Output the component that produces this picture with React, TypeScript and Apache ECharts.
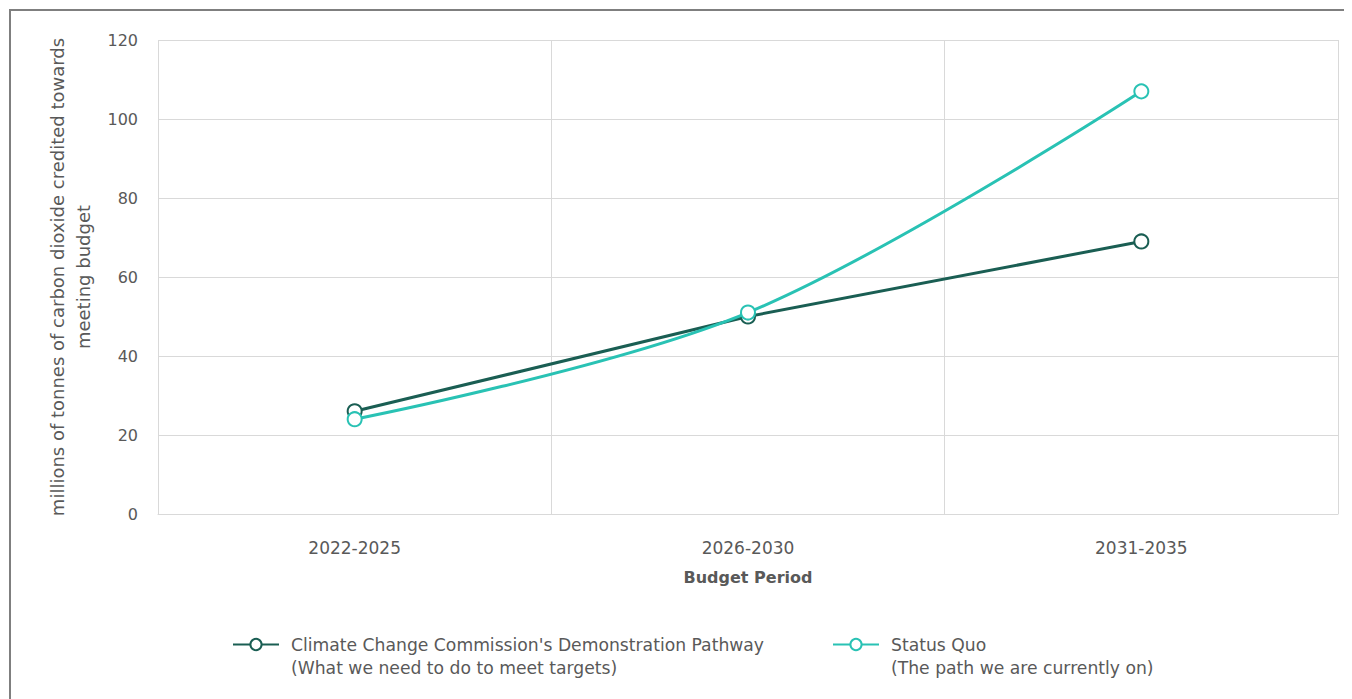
import React, { useEffect, useRef } from "react";
import * as echarts from "echarts";

const categories = ["2022-2025", "2026-2030", "2031-2035"];
const pathwayValues = [26, 50, 69];
const statusQuoValues = [24, 51, 107];
const yTicks = { min: 0, max: 120, interval: 20 };

const pathwayName = "Climate Change Commission's Demonstration Pathway";
const pathwaySub = "(What we need to do to meet targets)";
const statusName = "Status Quo";
const statusSub = "(The path we are currently on)";
const yAxisName = "millions of tonnes of carbon dioxide credited towards\nmeeting budget";
const xAxisName = "Budget Period";

const FONT = "DejaVu Sans";
const TEXT = "#595959";
const GRID = "#d9d9d9";
const DARK = "#1a5e53";
const TEAL = "#29c2b4";

export default function App() {
  const ref = useRef<HTMLDivElement>(null);
  useEffect(() => {
    if (!ref.current) return;
    const chart = echarts.init(ref.current, null, { renderer: "svg" });
    const legendText = {
      color: TEXT,
      fontFamily: FONT,
      fontSize: 17.2,
      padding: [0, 0, 0, 7],
    };
    const subStyle = {
      fill: TEXT,
      font: `17.2px "${FONT}"`,
      textVerticalAlign: "middle",
      verticalAlign: "middle",
    };
    chart.setOption({
      animation: false,
      backgroundColor: "#ffffff",
      textStyle: { fontFamily: FONT },
      graphic: [
        {
          type: "rect",
          shape: { x: 2, y: 2, width: 1400, height: 760 },
          style: { fill: "none", stroke: "#7f7f7f", lineWidth: 2 },
          silent: true,
        },
        {
          type: "text",
          x: 283,
          y: 660,
          style: { ...subStyle, text: pathwaySub },
          silent: true,
        },
        {
          type: "text",
          x: 883,
          y: 660,
          style: { ...subStyle, text: statusSub },
          silent: true,
        },
      ],
      grid: { left: 150, right: 14, top: 32, bottom: 185, containLabel: false },
      legend: [
        {
          data: [pathwayName],
          left: 224,
          top: 628,
          padding: 0,
          itemWidth: 46,
          itemHeight: 14,
          textStyle: legendText,
        },
        {
          data: [statusName],
          left: 824,
          top: 628,
          padding: 0,
          itemWidth: 46,
          itemHeight: 14,
          textStyle: legendText,
        },
      ],
      xAxis: {
        type: "category",
        data: categories,
        boundaryGap: true,
        name: xAxisName,
        nameLocation: "middle",
        nameGap: 55,
        nameTextStyle: { color: TEXT, fontFamily: FONT, fontSize: 16, fontWeight: "bold" },
        axisLine: { show: true, lineStyle: { color: GRID, width: 1 } },
        axisTick: { show: false },
        axisLabel: { color: TEXT, fontFamily: FONT, fontSize: 17, margin: 25 },
        splitLine: { show: true, interval: 0, lineStyle: { color: GRID, width: 1 } },
      },
      yAxis: {
        type: "value",
        min: yTicks.min,
        max: yTicks.max,
        interval: yTicks.interval,
        name: yAxisName,
        nameLocation: "middle",
        nameGap: 58,
        nameTextStyle: { color: TEXT, fontFamily: FONT, fontSize: 18, lineHeight: 26, align: "center" },
        axisLine: { show: false },
        axisTick: { show: false },
        axisLabel: { color: TEXT, fontFamily: FONT, fontSize: 16, margin: 20 },
        splitLine: { show: true, lineStyle: { color: GRID, width: 1 } },
      },
      series: [
        {
          name: pathwayName,
          type: "line",
          data: pathwayValues,
          symbol: "emptyCircle",
          symbolSize: 14,
          lineStyle: { color: DARK, width: 3 },
          itemStyle: { color: DARK, borderColor: DARK, borderWidth: 2.5 },
          z: 2,
        },
        {
          name: statusName,
          type: "line",
          data: statusQuoValues,
          smooth: 0.35,
          symbol: "emptyCircle",
          symbolSize: 14,
          lineStyle: { color: TEAL, width: 3 },
          itemStyle: { color: TEAL, borderColor: TEAL, borderWidth: 2.5 },
          z: 3,
        },
      ],
    });
    return () => chart.dispose();
  }, []);
  return <div ref={ref} style={{ width: 1344, height: 691 }} />;
}
